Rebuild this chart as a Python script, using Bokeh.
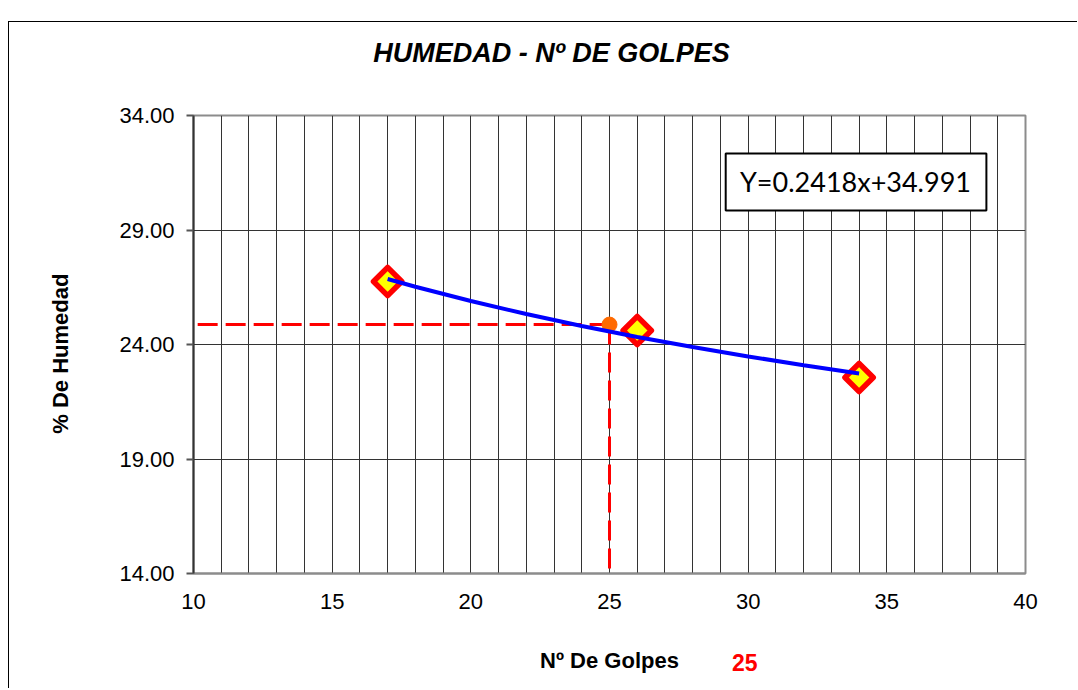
import math
from bokeh.plotting import figure
from bokeh.models import Range1d, FixedTicker, Label, BoxAnnotation, LinearAxis
from bokeh.embed import file_html
from bokeh.resources import INLINE

# ---- data ----
golpes = [17, 26, 34]
humedad = [26.75, 24.61, 22.56]
curve_x = [17, 18, 20, 22, 24, 26, 28, 30, 32, 34]
curve_y = [26.86, 26.52, 25.90, 25.33, 24.81, 24.33, 23.89, 23.48, 23.09, 22.73]
golpes_ref = 25
humedad_ref = 24.87
x_ticks = [10, 15, 20, 25, 30, 35, 40]
x_grid = list(range(10, 41))
y_ticks = [14, 19, 24, 29, 34]
y_tick_labels = ["14.00", "19.00", "24.00", "29.00", "34.00"]
title_text = "HUMEDAD - Nº DE GOLPES"
x_title = "Nº De Golpes"
y_title = "% De Humedad"
equation = "Y=0.2418x+34.991"

FONT = "Liberation Sans"
W, H = 1069, 667

p = figure(width=W, height=H, output_backend="svg", toolbar_location=None,
           x_range=Range1d(10, 40), y_range=Range1d(14, 34),
           min_border_left=184, min_border_right=53, min_border_top=93, min_border_bottom=116,
           background_fill_color="white", border_fill_color="white",
           styles={"border-left": "1px solid #000", "border-top": "1px solid #000",
                   "margin-top": "21px", "margin-left": "8px"})
p.title = None

p.outline_line_color = "#8c8c8c"
p.outline_line_width = 2

p.xgrid.ticker = FixedTicker(ticks=x_grid)
p.ygrid.ticker = FixedTicker(ticks=y_ticks)
for g in (p.xgrid, p.ygrid):
    g.grid_line_color = "#333333"
    g.grid_line_width = 1

ax = p.xaxis[0]
ax.ticker = FixedTicker(ticks=x_ticks)
ax.major_tick_out = 0
ax.major_tick_in = 0
ax.minor_tick_line_color = None
ax.axis_line_color = "#8c8c8c"
ax.axis_line_width = 2
ax.major_label_text_font = FONT
ax.major_label_text_font_size = "22px"
ax.major_label_text_color = "black"
ax.major_label_standoff = 20

ay = p.yaxis[0]
ay.ticker = FixedTicker(ticks=y_ticks)
ay.major_label_overrides = {t: l for t, l in zip(y_ticks, y_tick_labels)}
ay.major_tick_out = 7
ay.major_tick_in = 0
ay.major_tick_line_color = "#555555"
ay.major_tick_line_width = 2
ay.minor_tick_line_color = None
ay.axis_line_color = "#333333"
ay.axis_line_width = 2
ay.major_label_text_font = FONT
ay.major_label_text_font_size = "22px"
ay.major_label_text_color = "black"
ay.major_label_standoff = 12


def text_axis(pos, tick, label, standoff, size, style, color="black", orientation="horizontal"):
    a = LinearAxis(ticker=FixedTicker(ticks=[tick]), major_label_overrides={tick: label},
                   axis_line_color=None, major_tick_line_color=None, minor_tick_line_color=None,
                   major_label_standoff=standoff, major_label_orientation=orientation,
                   major_label_text_font=FONT, major_label_text_font_size=size,
                   major_label_text_font_style=style, major_label_text_color=color)
    p.add_layout(a, pos)
    return a


# chart title (above the plot area)
text_axis("above", 22.91, title_text, 42, "27px", "bold italic")
# y-axis title
text_axis("left", 23.6, y_title, 37, "22px", "bold", orientation="vertical")
# x-axis title with the red "25" beside it
axc = text_axis("below", 29.88, str(golpes_ref), 36, "23px", "bold", color="red")
axc.axis_label = x_title
axc.axis_label_standoff = -26
axc.axis_label_text_font = FONT
axc.axis_label_text_font_size = "22px"
axc.axis_label_text_font_style = "bold"
axc.axis_label_text_color = "black"

# reference dashed lines (25 blows)
p.line([10.15, golpes_ref], [humedad_ref, humedad_ref], line_color="red", line_width=3, line_dash="20 8")
p.line([golpes_ref, golpes_ref], [humedad_ref, 14], line_color="red", line_width=3, line_dash="20 8")

p.scatter([golpes_ref], [humedad_ref], size=15, marker="circle", fill_color="#ff6a00", line_color="#ff6a00")
p.scatter(golpes, humedad, marker="square", angle=math.pi / 4, size=20,
          fill_color="yellow", line_color="red", line_width=5.5, line_join="round")
p.line(curve_x, curve_y, line_color="blue", line_width=4)

# equation box
p.add_layout(BoxAnnotation(left=29.19, right=38.59, top=32.34, bottom=29.85,
                           fill_color="white", fill_alpha=1, line_color="black", line_alpha=1,
                           line_width=2))
p.add_layout(Label(x=33.87, y=31.12, text=equation, text_align="center", text_baseline="middle",
                   text_font="Lato", text_font_size="27px", text_color="black"))

open("out.html", "w").write(file_html(p, INLINE))
